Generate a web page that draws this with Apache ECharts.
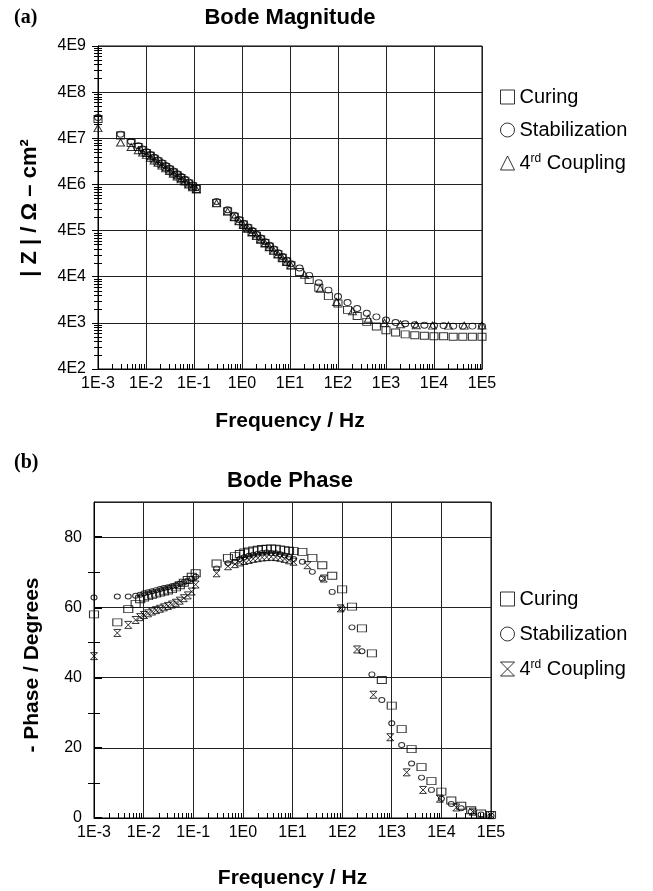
<!DOCTYPE html>
<html>
<head>
<meta charset="utf-8">
<script src="https://cdn.jsdelivr.net/npm/echarts@6/dist/echarts.min.js"></script>
<style>
  html, body { margin: 0; padding: 0; background: #fff; }
  #chart { width: 653px; height: 891px; }
</style>
</head>
<body>
<div id="chart"></div>
<script>
// Sweep frequencies (Hz): low-frequency run, mid run, high-frequency run
const freqLow = [0.001, 0.00295, 0.0049, 0.0069, 0.0085, 0.0102, 0.0123, 0.0148, 0.0178, 0.0214,
  0.0257, 0.0309, 0.0372, 0.0447, 0.0537, 0.0646, 0.0776, 0.0933, 0.112];
const freqMid = [0.295, 0.501, 0.692, 0.871, 1.07, 1.32, 1.62, 2.0, 2.45, 3.02, 3.72, 4.57,
  5.62, 6.92, 8.51, 10.5];
const freqHigh = [15.8, 25.1, 39.8, 63.1, 100, 158, 251, 398, 631, 1000, 1585, 2512, 3981,
  6310, 10000, 15849, 25119, 39811, 63096, 100000];
const freqHighCoupling = [20.0, 42.7, 93.3, 200, 427, 933, 2000, 4270, 9330, 20000, 42700, 100000];

// Impedance modulus |Z| (ohm cm2)
const magCuring = [2.63e7, 1.15e7, 7.94e6, 6.46e6, 5.50e6, 4.79e6, 4.17e6, 3.63e6, 3.16e6, 2.75e6,
  2.40e6, 2.09e6, 1.82e6, 1.58e6, 1.38e6, 1.20e6, 1.05e6, 9.12e5, 7.94e5,
  3.98e5, 2.63e5, 2.00e5, 1.62e5, 1.35e5, 1.12e5, 9.33e4, 7.76e4, 6.46e4, 5.37e4, 4.47e4, 3.72e4,
  3.09e4, 2.57e4, 2.14e4, 1.78e4,
  1.26e4, 8.51e3, 5.75e3, 3.80e3, 2.63e3, 1.91e3, 1.41e3, 1.05e3, 832, 692, 617, 562, 537, 525,
  513, 513, 501, 501, 501, 501];
const magStabilization = [2.82e7, 1.23e7, 8.51e6, 6.92e6, 5.89e6, 5.13e6, 4.47e6, 3.89e6, 3.39e6, 2.95e6,
  2.57e6, 2.24e6, 1.95e6, 1.70e6, 1.48e6, 1.29e6, 1.12e6, 9.77e5, 8.51e5,
  4.27e5, 2.82e5, 2.14e5, 1.74e5, 1.45e5, 1.20e5, 1.00e5, 8.32e4, 6.92e4, 5.75e4, 4.79e4, 3.98e4,
  3.31e4, 2.75e4, 2.29e4, 1.91e4,
  1.55e4, 1.07e4, 7.41e3, 5.13e3, 3.72e3, 2.75e3, 2.04e3, 1.62e3, 1.35e3, 1.15e3, 1.02e3, 955, 912, 891,
  871, 871, 851, 851, 851, 851];
const magCoupling = [1.66e7, 8.13e6, 6.46e6, 5.50e6, 4.90e6, 4.37e6, 3.80e6, 3.31e6, 2.95e6, 2.57e6,
  2.24e6, 1.95e6, 1.70e6, 1.48e6, 1.29e6, 1.15e6, 1.00e6, 8.71e5, 7.76e5,
  3.89e5, 2.57e5, 1.95e5, 1.58e5, 1.32e5, 1.10e5, 9.12e4, 7.59e4, 6.31e4, 5.25e4, 4.37e4, 3.63e4,
  3.02e4, 2.51e4, 2.09e4, 1.74e4,
  1.10e4, 5.50e3, 2.82e3, 1.78e3, 1.23e3, 1.00e3, 933, 891, 871, 871, 871, 871];

// Phase angle (degrees, sign inverted)
const phaseCuring = [58.0, 55.7, 59.5, 61.0, 62.3, 62.8, 63.2, 63.6, 63.9, 64.2, 64.5, 64.8, 65.2,
  65.7, 66.3, 67.0, 67.8, 68.7, 69.7,
  72.5, 74.1, 74.6, 75.2, 75.6, 75.9, 76.2, 76.4, 76.6, 76.7, 76.8, 76.7, 76.5, 76.3, 76.1, 76.0,
  75.8, 74.1, 72.0, 69.0, 65.1, 60.2, 54.0, 46.9, 39.3, 32.0, 25.3, 19.6, 14.5, 10.5, 7.5, 5.0,
  3.5, 2.2, 1.3, 0.9];
const phaseStabilization = [62.8, 63.1, 63.1, 63.3, 63.6, 64.0, 64.3, 64.6, 64.9, 65.2, 65.5, 65.7,
  66.0, 66.3, 66.7, 67.1, 67.6, 68.1, 68.7,
  71.1, 72.6, 73.0, 73.8, 74.3, 74.7, 75.0, 75.3, 75.5, 75.6, 75.5, 75.4, 75.1, 74.8, 74.3, 73.8,
  73.0, 70.1, 68.2, 64.4, 59.7, 54.3, 47.5, 40.9, 33.6, 27.0, 20.8, 15.5, 11.5, 8.0, 5.5, 4.0,
  2.8, 1.8, 1.0, 0.6];
const phaseCoupling = [46.1, 52.7, 55.0, 56.4, 57.2, 57.8, 58.3, 58.8, 59.2, 59.6, 60.0, 60.4, 60.8,
  61.3, 61.9, 62.6, 63.4, 64.5, 66.5,
  69.7, 71.7, 72.3, 72.8, 73.2, 73.5, 73.8, 74.0, 74.2, 74.3, 74.4, 74.3, 74.1, 73.8, 73.4, 73.0,
  72.0, 68.2, 59.7, 48.0, 35.1, 23.0, 13.0, 8.0, 5.5, 3.0, 1.8, 0.8];

const seriesNames = ['Curing', 'Stabilization', '4rd Coupling'];
const freqTickLabels = ['1E-3', '1E-2', '1E-1', '1E0', '1E1', '1E2', '1E3', '1E4', '1E5'];
const magTickLabels = ['4E2', '4E3', '4E4', '4E5', '4E6', '4E7', '4E8', '4E9'];

const FONT = 'Liberation Sans, Arial, Helvetica, sans-serif';
const freqAll = freqLow.concat(freqMid, freqHigh);
const freqCoupling = freqLow.concat(freqMid, freqHighCoupling);
const pairs = (xs, ys) => xs.map((x, i) => [x, ys[i]]);
const hourglass = 'path://M0,0L10,0L0,10L10,10Z';
const hollow = { color: 'rgba(0,0,0,0)', borderColor: '#000', borderWidth: 1 };

// log-spaced minor tick values 2..9 x 10^e
function logMinor(lo, hi) {
  const v = [];
  for (let e = lo; e < hi; e++) for (let k = 2; k <= 9; k++) v.push(k * Math.pow(10, e));
  return v;
}
const px = v => Math.round(v) + 0.5;
function tickLine(x1, y1, x2, y2) {
  return { type: 'line', shape: { x1: x1, y1: y1, x2: x2, y2: y2 },
    style: { stroke: '#000', lineWidth: 1 } };
}

function freqAxis(grid, gap) {
  return {
    type: 'log', gridIndex: grid, logBase: 10, min: 1e-3, max: 1e5,
    axisLine: { onZero: false, lineStyle: { color: '#000', width: 1 } },
    axisTick: { show: false },
    splitLine: { show: true, lineStyle: { color: '#222', width: 1 } },
    axisLabel: { color: '#000', fontSize: 16, fontFamily: FONT, margin: 7,
      formatter: v => freqTickLabels[Math.round(Math.log10(v)) + 3] },
    name: 'Frequency / Hz', nameLocation: 'middle', nameGap: gap,
    nameTextStyle: { color: '#000', fontSize: 21, fontWeight: 'bold', fontFamily: FONT }
  };
}

function legendFor(top, gap, icons) {
  return {
    orient: 'vertical', left: 495, top: top, itemWidth: 14, itemHeight: 14, itemGap: gap,
    selectedMode: false,
    data: seriesNames.map((n, i) => ({ name: n, icon: icons[i] })),
    itemStyle: { color: 'rgba(0,0,0,0)', borderColor: '#000', borderWidth: 1 },
    formatter: n => (n === '4rd Coupling' ? '4{sup|rd} Coupling' : n),
    textStyle: { color: '#000', fontSize: 20, fontFamily: FONT, lineHeight: 20,
      rich: { sup: { fontSize: 12, fontFamily: FONT, verticalAlign: 'top', lineHeight: 20, color: '#000' } } }
  };
}

const chart = echarts.init(document.getElementById('chart'), null, { renderer: 'canvas' });

chart.setOption({
  backgroundColor: '#fff',
  animation: false,
  graphic: [
    { type: 'text', x: 14, y: 18, style: { text: '(a)', font: 'bold 20px Liberation Serif', fill: '#000', verticalAlign: 'middle' } },
    { type: 'text', x: 290, y: 18, style: { text: 'Bode Magnitude', font: 'bold 22px ' + FONT, fill: '#000', align: 'center', verticalAlign: 'middle' } },
    { type: 'text', x: 30, y: 208, rotation: Math.PI / 2, style: { text: '| Z | / \u03A9 \u2013 cm\u00B2', font: 'bold 22px ' + FONT, fill: '#000', align: 'center', verticalAlign: 'middle' } },
    { type: 'text', x: 14, y: 463, style: { text: '(b)', font: 'bold 20px Liberation Serif', fill: '#000', verticalAlign: 'middle' } },
    { type: 'text', x: 290, y: 481, style: { text: 'Bode Phase', font: 'bold 22px ' + FONT, fill: '#000', align: 'center', verticalAlign: 'middle' } },
    { type: 'text', x: 32, y: 665, rotation: Math.PI / 2, style: { text: '- Phase / Degrees', font: 'bold 21px ' + FONT, fill: '#000', align: 'center', verticalAlign: 'middle' } }
  ],
  grid: [
    { left: 98, top: 46, width: 384, height: 323, show: true, borderColor: '#000', borderWidth: 1, backgroundColor: 'transparent' },
    { left: 94, top: 502, width: 397, height: 316, show: true, borderColor: '#000', borderWidth: 1, backgroundColor: 'transparent' }
  ],
  xAxis: [freqAxis(0, 42), freqAxis(1, 50)],
  yAxis: [
    {
      type: 'log', gridIndex: 0, logBase: 10, min: 1e2, max: 1e9,
      axisLine: { lineStyle: { color: '#000', width: 1 } },
      axisTick: { show: true, length: 6, lineStyle: { color: '#000' } },
      splitLine: { show: true, lineStyle: { color: '#222', width: 1 } },
      axisLabel: { color: '#000', fontSize: 16, fontFamily: FONT, margin: 12,
        formatter: v => magTickLabels[Math.round(Math.log10(v)) - 2] }
    },
    {
      type: 'value', gridIndex: 1, min: 0, max: 90, interval: 20,
      axisLine: { lineStyle: { color: '#000', width: 1 } },
      axisTick: { show: true, inside: true, length: 8, lineStyle: { color: '#000', width: 2 } },
      splitLine: { show: true, lineStyle: { color: '#222', width: 1 } },
      axisLabel: { color: '#000', fontSize: 16, fontFamily: FONT, margin: 12, showMaxLabel: false }
    }
  ],
  legend: [
    legendFor(82, 13, ['rect', 'circle', 'triangle']),
    legendFor(584, 15, ['rect', 'circle', hourglass])
  ],
  series: [
    // minor ticks for the magnitude plot
    {
      type: 'custom', name: 'ticksA', xAxisIndex: 0, yAxisIndex: 0, silent: true, clip: false,
      data: [[1, 1e5]],
      renderItem: function (params, api) {
        const kids = [];
        logMinor(-3, 5).forEach(f => {
          const p = api.coord([f, 1e2]);
          kids.push(tickLine(px(p[0]), p[1], px(p[0]), p[1] - 5));
        });
        logMinor(2, 9).forEach(z => {
          const p = api.coord([1e-3, z]);
          kids.push(tickLine(p[0] - 4, px(p[1]), p[0] + 4, px(p[1])));
        });
        return { type: 'group', children: kids };
      }
    },
    // minor ticks for the phase plot
    {
      type: 'custom', name: 'ticksB', xAxisIndex: 1, yAxisIndex: 1, silent: true, clip: false,
      data: [[1, 45]],
      renderItem: function (params, api) {
        const kids = [];
        logMinor(-3, 5).forEach(f => {
          const p = api.coord([f, 0]);
          kids.push(tickLine(px(p[0]), p[1], px(p[0]), p[1] - 5));
        });
        [10, 30, 50, 70].forEach(d => {
          const p = api.coord([1e-3, d]);
          kids.push(tickLine(p[0] - 6, px(p[1]), p[0] + 6, px(p[1])));
        });
        return { type: 'group', children: kids };
      }
    },
    { type: 'scatter', name: 'Curing', xAxisIndex: 0, yAxisIndex: 0, silent: true,
      symbol: 'rect', symbolSize: [8, 7], itemStyle: hollow, data: pairs(freqAll, magCuring) },
    { type: 'scatter', name: 'Stabilization', xAxisIndex: 0, yAxisIndex: 0, silent: true,
      symbol: 'circle', symbolSize: [7, 6], itemStyle: hollow, data: pairs(freqAll, magStabilization) },
    { type: 'scatter', name: '4rd Coupling', xAxisIndex: 0, yAxisIndex: 0, silent: true,
      symbol: 'triangle', symbolSize: [8, 7], itemStyle: hollow, data: pairs(freqCoupling, magCoupling) },
    { type: 'scatter', name: 'Curing', xAxisIndex: 1, yAxisIndex: 1, silent: true,
      symbol: 'rect', symbolSize: [9, 7], itemStyle: hollow, data: pairs(freqAll, phaseCuring) },
    { type: 'scatter', name: 'Stabilization', xAxisIndex: 1, yAxisIndex: 1, silent: true,
      symbol: 'circle', symbolSize: [6, 5], itemStyle: hollow, data: pairs(freqAll, phaseStabilization) },
    { type: 'scatter', name: '4rd Coupling', xAxisIndex: 1, yAxisIndex: 1, silent: true,
      symbol: hourglass, symbolSize: [7, 7], itemStyle: hollow, data: pairs(freqCoupling, phaseCoupling) }
  ]
});
</script>
</body>
</html>
